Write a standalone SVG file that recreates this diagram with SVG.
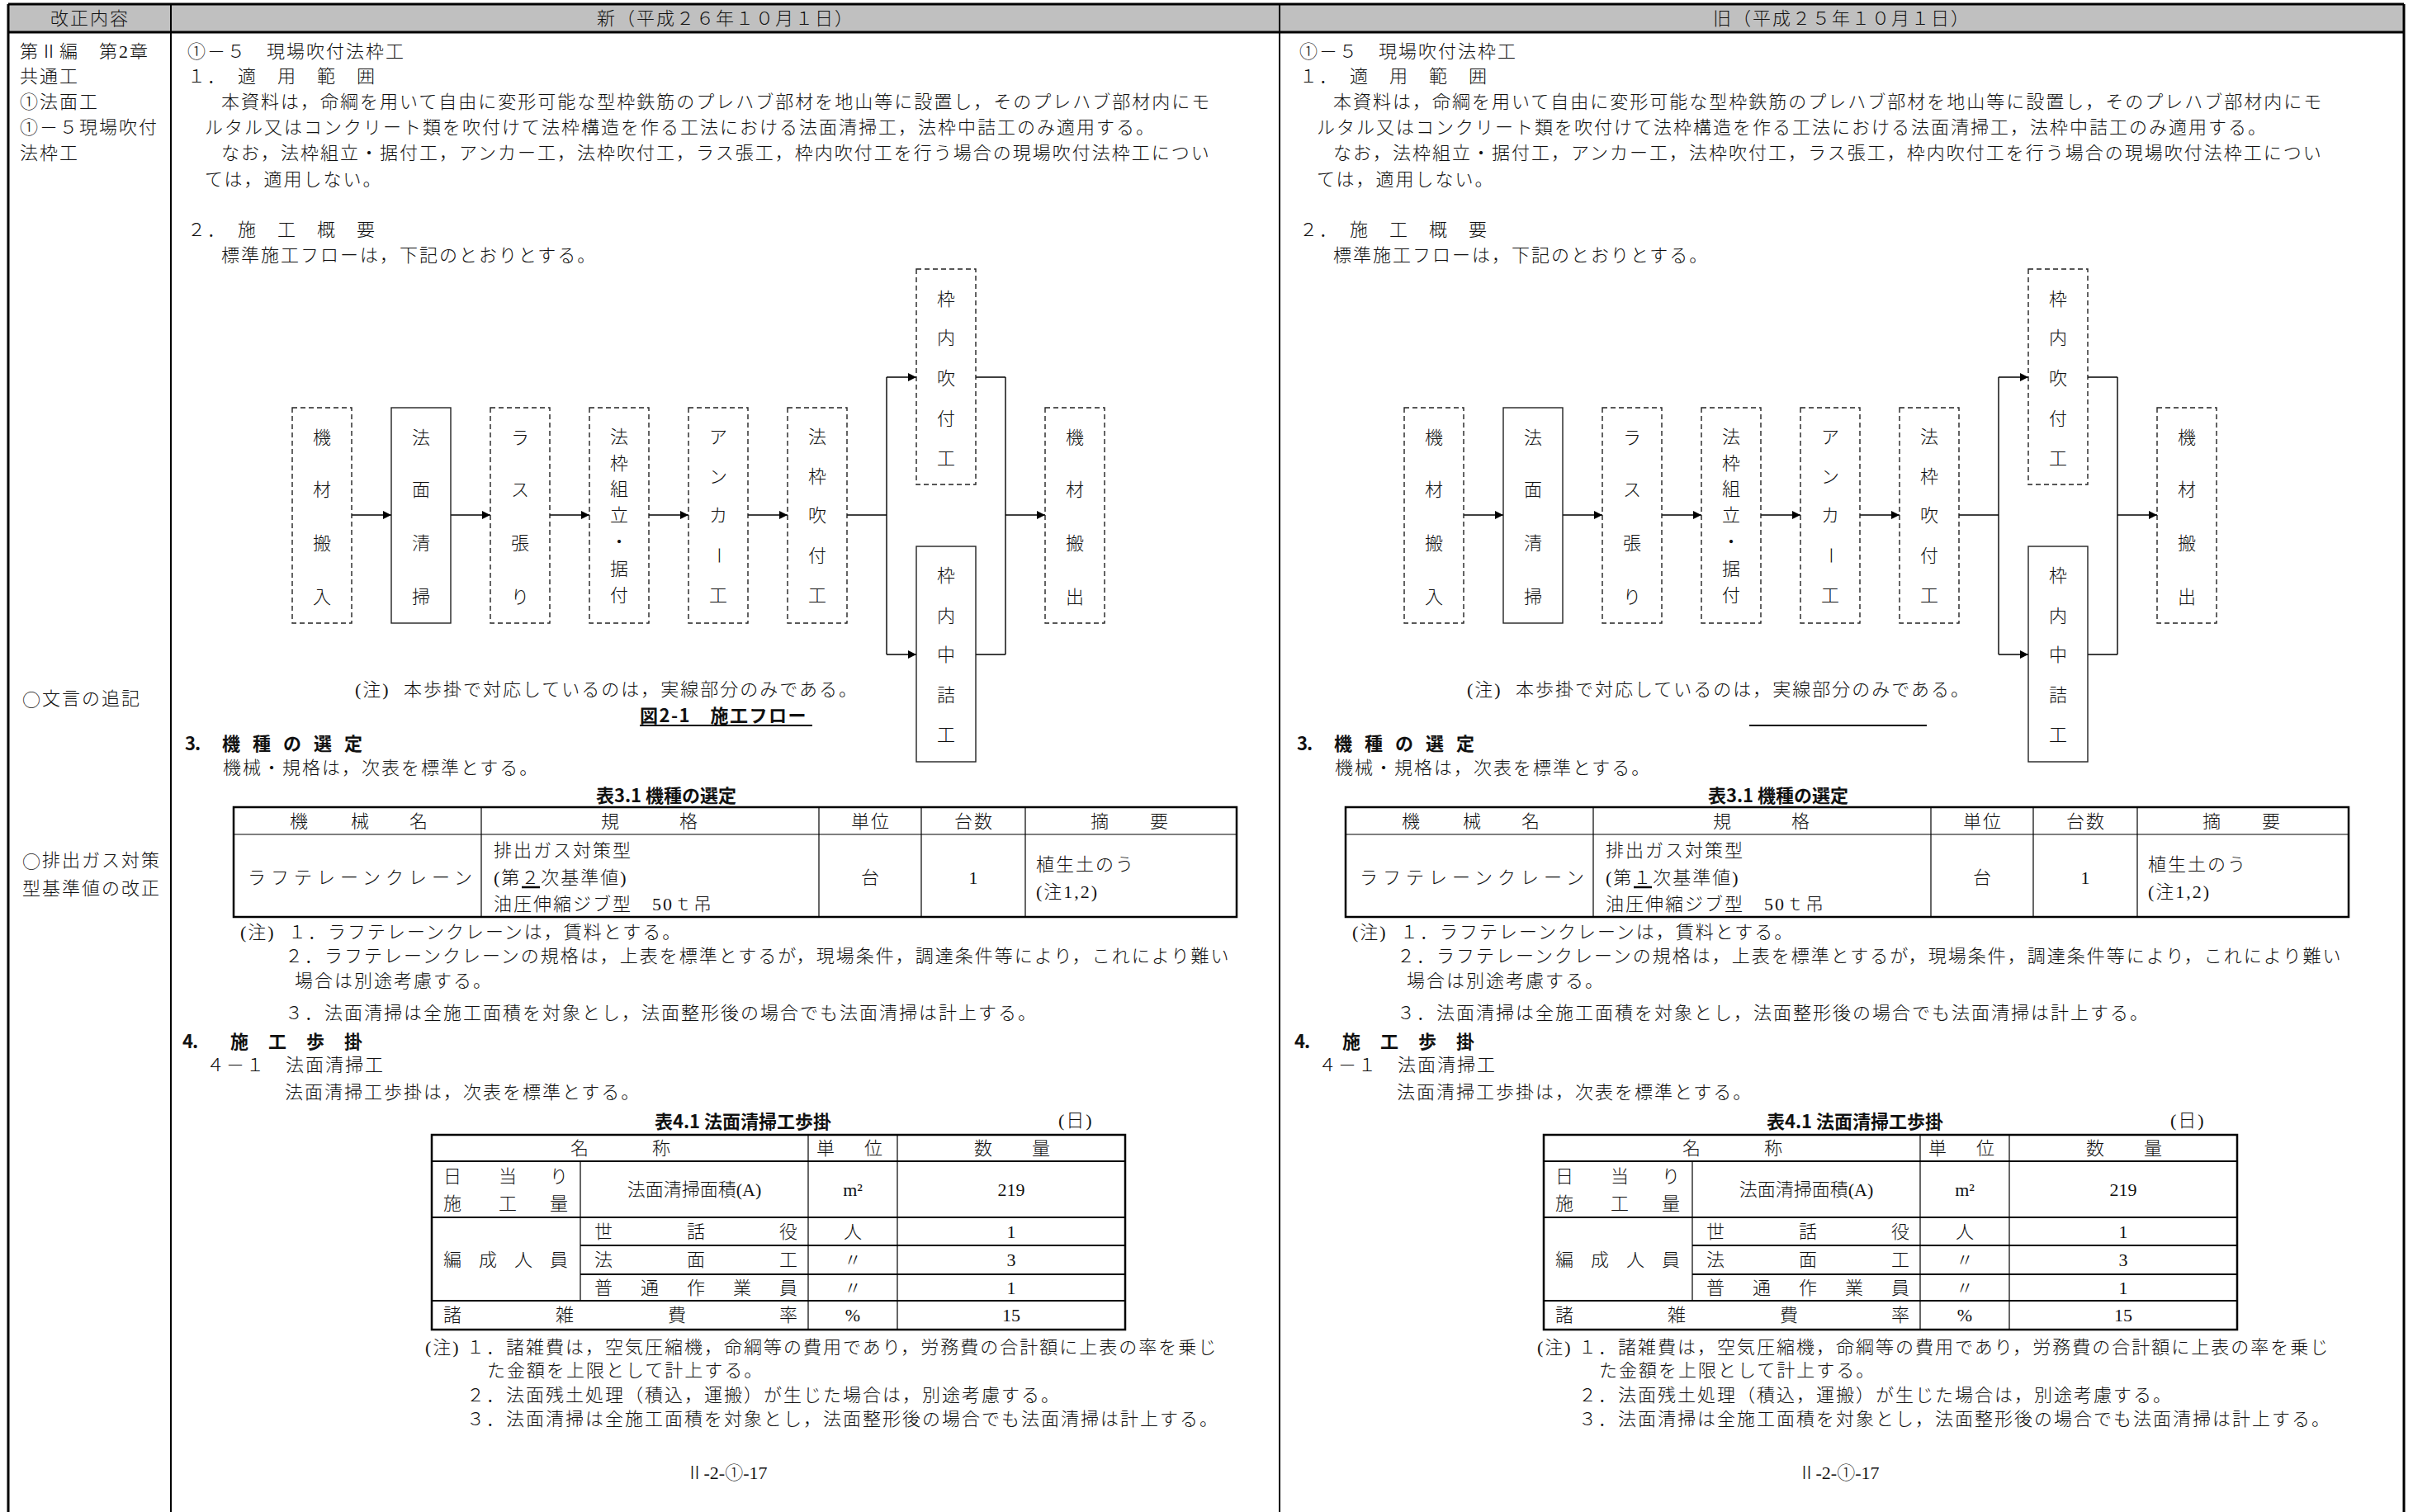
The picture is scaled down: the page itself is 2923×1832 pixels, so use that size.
<svg xmlns="http://www.w3.org/2000/svg" width="2923" height="1832" viewBox="0 0 2923 1832">
<style>
text{font-family:"Liberation Serif","Noto Sans CJK JP",serif;font-size:22px;font-weight:300;fill:#111;dominant-baseline:central}
.t{letter-spacing:2px}
.c{text-anchor:middle}
.b{font-family:"Noto Sans CJK JP","Liberation Sans",sans-serif;font-weight:700}
.j{font-family:"Noto Sans CJK JP",sans-serif}
.frame{stroke:#000;stroke-width:3;fill:none}
.div{stroke:#000;stroke-width:2;fill:none}
.box{fill:#fff;stroke:#222;stroke-width:1.4}
.dash{stroke-dasharray:6 4}
.con{stroke:#000;stroke-width:1.4;fill:none}
.arr{marker-end:url(#ah)}
.tb{stroke:#000;stroke-width:2.5;fill:none}
.tl{stroke:#000;stroke-width:1.2;fill:none}
.th{stroke:#000;stroke-width:2;fill:none}
</style>
<defs>
<marker id="ah" viewBox="0 0 10 10" refX="10" refY="5" markerWidth="11" markerHeight="10" markerUnits="userSpaceOnUse" orient="auto"><path d="M0,0 L10,5 L0,10 z" fill="#000"/></marker>
</defs>
<rect width="2923" height="1832" fill="#fff"/>
<g id="page-frame">
<rect x="10" y="5" width="2902" height="34" fill="#c0c0c0"/>
<line class="frame" x1="10" y1="5" x2="2912" y2="5"/>
<line class="frame" x1="10" y1="39" x2="2912" y2="39"/>
<line class="frame" x1="10" y1="5" x2="10" y2="1832"/>
<line class="frame" x1="2912" y1="5" x2="2912" y2="1832"/>
<line class="div" x1="207" y1="5" x2="207" y2="1832"/>
<line class="div" x1="1550" y1="5" x2="1550" y2="1832"/>
<text class="c t" x="109" y="22">改正内容</text>
<text class="c t" x="879" y="22">新（平成２６年１０月１日）</text>
<text class="c t" x="2231" y="22">旧（平成２５年１０月１日）</text>
</g>
<g id="revision-notes">
<text class="t" x="24" y="62">第Ⅱ編　第2章</text>
<text class="t" x="24" y="92">共通工</text>
<text class="t" x="24" y="123">①法面工</text>
<text class="t" x="24" y="154">①－５現場吹付</text>
<text class="t" x="24" y="185">法枠工</text>
<text class="t" x="27" y="846"><tspan class="j">○</tspan>文言の追記</text>
<text class="t" x="27" y="1042"><tspan class="j">○</tspan>排出ガス対策</text>
<text class="t" x="27" y="1076">型基準値の改正</text>
</g>

<g id="col-new">
<text class="t" x="227" y="62">①－５　現場吹付法枠工</text>
<text class="t" x="227" y="92">１．　適　用　範　囲</text>
<text class="t" x="268" y="123">本資料は，命綱を用いて自由に変形可能な型枠鉄筋のプレハブ部材を地山等に設置し，そのプレハブ部材内にモ</text>
<text class="t" x="248" y="154">ルタル又はコンクリート類を吹付けて法枠構造を作る工法における法面清掃工，法枠中詰工のみ適用する。</text>
<text class="t" x="268" y="185">なお，法枠組立・据付工，アンカー工，法枠吹付工，ラス張工，枠内吹付工を行う場合の現場吹付法枠工につい</text>
<text class="t" x="248" y="217">ては，適用しない。</text>
<text class="t" x="227" y="278">２．　施　工　概　要</text>
<text class="t" x="268" y="309">標準施工フローは，下記のとおりとする。</text>

<g id="flow-new">
<g id="connectors-new">
<line class="con arr" x1="426" y1="624" x2="474" y2="624"/>
<line class="con arr" x1="546" y1="624" x2="594" y2="624"/>
<line class="con arr" x1="666" y1="624" x2="714" y2="624"/>
<line class="con arr" x1="786" y1="624" x2="834" y2="624"/>
<line class="con arr" x1="906" y1="624" x2="954" y2="624"/>
<line class="con" x1="1026" y1="624" x2="1074" y2="624"/>
<line class="con" x1="1074" y1="457" x2="1074" y2="793"/>
<line class="con arr" x1="1074" y1="457" x2="1110" y2="457"/>
<line class="con arr" x1="1074" y1="793" x2="1110" y2="793"/>
<line class="con" x1="1182" y1="457" x2="1218" y2="457"/>
<line class="con" x1="1182" y1="793" x2="1218" y2="793"/>
<line class="con" x1="1218" y1="457" x2="1218" y2="793"/>
<line class="con arr" x1="1218" y1="624" x2="1266" y2="624"/>
</g>
<g id="n-kizai-hannyu-new"><rect class="box dash" x="354" y="494" width="72" height="261"/><text class="c" x="390 390 390 390" y="530 593 658 723">機材搬入</text></g>
<g id="n-homen-seiso-new"><rect class="box" x="474" y="494" width="72" height="261"/><text class="c" x="510 510 510 510" y="530 593 658 723">法面清掃</text></g>
<g id="n-rasu-bari-new"><rect class="box dash" x="594" y="494" width="72" height="261"/><text class="c" x="630 630 630 630" y="530 593 658 723">ラス張り</text></g>
<g id="n-howaku-kumitate-new"><rect class="box dash" x="714" y="494" width="72" height="261"/><text class="c" x="750 750 750 750 750 750 750" y="529 561 592 624 656 689 721">法枠組立・据付</text></g>
<g id="n-anchor-new"><rect class="box dash" x="834" y="494" width="72" height="261"/><text class="c" x="870 870 870" y="529 577 624">アンカ</text><text class="c" x="870" y="673" transform="rotate(90 870 673)">ー</text><text class="c" x="870" y="721">工</text></g>
<g id="n-howaku-fukitsuke-new"><rect class="box dash" x="954" y="494" width="72" height="261"/><text class="c" x="990 990 990 990 990" y="529 577 624 673 721">法枠吹付工</text></g>
<g id="n-wakunai-fukitsuke-new"><rect class="box dash" x="1110" y="326" width="72" height="261"/><text class="c" x="1146 1146 1146 1146 1146" y="362 409 458 507 555">枠内吹付工</text></g>
<g id="n-wakunai-nakazume-new"><rect class="box" x="1110" y="662" width="72" height="261"/><text class="c" x="1146 1146 1146 1146 1146" y="697 746 793 842 890">枠内中詰工</text></g>
<g id="n-kizai-hanshutsu-new"><rect class="box dash" x="1266" y="494" width="72" height="261"/><text class="c" x="1302 1302 1302 1302" y="530 593 658 723">機材搬出</text></g>
</g>
<text class="t" x="430" y="835">(注)</text>
<text class="t" x="489" y="835">本歩掛で対応しているのは，実線部分のみである。</text>
<text class="b" x="775" y="865" style="letter-spacing:1.5px">図2-1　施工フロー</text>
<line class="th" x1="775" y1="879" x2="984" y2="879"/>

<text class="b" x="224 236 269 306 343 380 417" y="899">3.機種の選定</text>
<text class="t" x="270" y="930">機械・規格は，次表を標準とする。</text>
<text class="b c" x="807" y="962">表3.1 機種の選定</text>
<g id="table31-new">
<rect class="tb" x="283" y="978" width="1215" height="133"/>
<line class="tl" x1="283" y1="1011" x2="1498" y2="1011"/>
<line class="tl" x1="583" y1="978" x2="583" y2="1111"/>
<line class="tl" x1="992" y1="978" x2="992" y2="1111"/>
<line class="tl" x1="1116" y1="978" x2="1116" y2="1111"/>
<line class="tl" x1="1242" y1="978" x2="1242" y2="1111"/>
<text class="c" x="362 436 507" y="995">機械名</text>
<text class="c" x="739 834" y="995">規格</text>
<text class="c t" x="1055" y="995">単位</text>
<text class="c t" x="1180" y="995">台数</text>
<text class="c" x="1332 1404" y="995">摘要</text>
<text x="300" y="1063" textLength="272" lengthAdjust="spacing">ラフテレーンクレーン</text>
<text class="t" x="598" y="1030">排出ガス対策型</text>
<text class="t" x="598" y="1063">(第２次基準値)</text>
<line x1="632" y1="1075" x2="654" y2="1075" stroke="#000" stroke-width="2.5"/>
<text class="t" x="598" y="1095">油圧伸縮ジブ型　50ｔ吊</text>
<text class="c" x="1054" y="1063">台</text>
<text class="c" x="1179" y="1063">1</text>
<text class="t" x="1255" y="1047">植生土のう</text>
<text class="t" x="1255" y="1080">(注1,2)</text>
</g>
<text class="t" x="291" y="1129">(注)</text>
<text class="t" x="349" y="1129">１．ラフテレーンクレーンは，賃料とする。</text>
<text class="t" x="345" y="1158">２．ラフテレーンクレーンの規格は，上表を標準とするが，現場条件，調達条件等により，これにより難い</text>
<text class="t" x="357" y="1188">場合は別途考慮する。</text>
<text class="t" x="345" y="1227">３．法面清掃は全施工面積を対象とし，法面整形後の場合でも法面清掃は計上する。</text>
<text class="b" x="221 233 279 325 371 417" y="1260">4.施工歩掛</text>
<text class="t" x="250" y="1290">４－１　法面清掃工</text>
<text class="t" x="345" y="1323">法面清掃工歩掛は，次表を標準とする。</text>
<text class="b c" x="900" y="1357">表4.1 法面清掃工歩掛</text>
<text class="t" x="1282" y="1357">(日)</text>
<g id="table41-new">
<rect class="tb" x="523" y="1375" width="840" height="236"/>
<line class="th" x1="523" y1="1407" x2="1363" y2="1407"/>
<line class="th" x1="523" y1="1475" x2="1363" y2="1475"/>
<line class="th" x1="703" y1="1509" x2="1363" y2="1509"/>
<line class="th" x1="703" y1="1544" x2="1363" y2="1544"/>
<line class="th" x1="523" y1="1576" x2="1363" y2="1576"/>
<line class="tl" x1="703" y1="1407" x2="703" y2="1576"/>
<line class="tl" x1="979" y1="1375" x2="979" y2="1611"/>
<line class="tl" x1="1087" y1="1375" x2="1087" y2="1611"/>
<text class="c" x="702 801" y="1391">名称</text>
<text class="c" x="1000 1058" y="1391">単位</text>
<text class="c" x="1191 1261" y="1391">数量</text>
<text class="c" x="548 615 677" y="1425">日当り</text>
<text class="c" x="548 615 677" y="1458">施工量</text>
<text class="c" x="841" y="1441">法面清掃面積(A)</text>
<text class="c" x="1033" y="1441">m²</text>
<text class="c" x="1225" y="1441">219</text>
<text class="c" x="731 843 955" y="1492">世話役</text>
<text class="c" x="1033" y="1492">人</text>
<text class="c" x="1225" y="1492">1</text>
<text class="c" x="548 591 634 677" y="1526">編成人員</text>
<text class="c" x="731 843 955" y="1526">法面工</text>
<text class="c" x="1033" y="1526">〃</text>
<text class="c" x="1225" y="1526">3</text>
<text class="c" x="731 787 843 899 955" y="1560">普通作業員</text>
<text class="c" x="1033" y="1560">〃</text>
<text class="c" x="1225" y="1560">1</text>
<text class="c" x="548 684 820 955" y="1593">諸雑費率</text>
<text class="c" x="1033" y="1593">%</text>
<text class="c" x="1225" y="1593">15</text>
</g>
<text class="t" x="515" y="1632">(注)</text>
<text class="t" x="565" y="1632">１．諸雑費は，空気圧縮機，命綱等の費用であり，労務費の合計額に上表の率を乗じ</text>
<text class="t" x="590" y="1660">た金額を上限として計上する。</text>
<text class="t" x="565" y="1690">２．法面残土処理（積込，運搬）が生じた場合は，別途考慮する。</text>
<text class="t" x="565" y="1719">３．法面清掃は全施工面積を対象とし，法面整形後の場合でも法面清掃は計上する。</text>
<text class="c" x="880" y="1784">Ⅱ-2-①-17</text>
</g>

<g id="col-old" transform="translate(1347,0)">
<text class="t" x="227" y="62">①－５　現場吹付法枠工</text>
<text class="t" x="227" y="92">１．　適　用　範　囲</text>
<text class="t" x="268" y="123">本資料は，命綱を用いて自由に変形可能な型枠鉄筋のプレハブ部材を地山等に設置し，そのプレハブ部材内にモ</text>
<text class="t" x="248" y="154">ルタル又はコンクリート類を吹付けて法枠構造を作る工法における法面清掃工，法枠中詰工のみ適用する。</text>
<text class="t" x="268" y="185">なお，法枠組立・据付工，アンカー工，法枠吹付工，ラス張工，枠内吹付工を行う場合の現場吹付法枠工につい</text>
<text class="t" x="248" y="217">ては，適用しない。</text>
<text class="t" x="227" y="278">２．　施　工　概　要</text>
<text class="t" x="268" y="309">標準施工フローは，下記のとおりとする。</text>

<g id="flow-old">
<g id="connectors-old">
<line class="con arr" x1="426" y1="624" x2="474" y2="624"/>
<line class="con arr" x1="546" y1="624" x2="594" y2="624"/>
<line class="con arr" x1="666" y1="624" x2="714" y2="624"/>
<line class="con arr" x1="786" y1="624" x2="834" y2="624"/>
<line class="con arr" x1="906" y1="624" x2="954" y2="624"/>
<line class="con" x1="1026" y1="624" x2="1074" y2="624"/>
<line class="con" x1="1074" y1="457" x2="1074" y2="793"/>
<line class="con arr" x1="1074" y1="457" x2="1110" y2="457"/>
<line class="con arr" x1="1074" y1="793" x2="1110" y2="793"/>
<line class="con" x1="1182" y1="457" x2="1218" y2="457"/>
<line class="con" x1="1182" y1="793" x2="1218" y2="793"/>
<line class="con" x1="1218" y1="457" x2="1218" y2="793"/>
<line class="con arr" x1="1218" y1="624" x2="1266" y2="624"/>
</g>
<g id="n-kizai-hannyu-old"><rect class="box dash" x="354" y="494" width="72" height="261"/><text class="c" x="390 390 390 390" y="530 593 658 723">機材搬入</text></g>
<g id="n-homen-seiso-old"><rect class="box" x="474" y="494" width="72" height="261"/><text class="c" x="510 510 510 510" y="530 593 658 723">法面清掃</text></g>
<g id="n-rasu-bari-old"><rect class="box dash" x="594" y="494" width="72" height="261"/><text class="c" x="630 630 630 630" y="530 593 658 723">ラス張り</text></g>
<g id="n-howaku-kumitate-old"><rect class="box dash" x="714" y="494" width="72" height="261"/><text class="c" x="750 750 750 750 750 750 750" y="529 561 592 624 656 689 721">法枠組立・据付</text></g>
<g id="n-anchor-old"><rect class="box dash" x="834" y="494" width="72" height="261"/><text class="c" x="870 870 870" y="529 577 624">アンカ</text><text class="c" x="870" y="673" transform="rotate(90 870 673)">ー</text><text class="c" x="870" y="721">工</text></g>
<g id="n-howaku-fukitsuke-old"><rect class="box dash" x="954" y="494" width="72" height="261"/><text class="c" x="990 990 990 990 990" y="529 577 624 673 721">法枠吹付工</text></g>
<g id="n-wakunai-fukitsuke-old"><rect class="box dash" x="1110" y="326" width="72" height="261"/><text class="c" x="1146 1146 1146 1146 1146" y="362 409 458 507 555">枠内吹付工</text></g>
<g id="n-wakunai-nakazume-old"><rect class="box" x="1110" y="662" width="72" height="261"/><text class="c" x="1146 1146 1146 1146 1146" y="697 746 793 842 890">枠内中詰工</text></g>
<g id="n-kizai-hanshutsu-old"><rect class="box dash" x="1266" y="494" width="72" height="261"/><text class="c" x="1302 1302 1302 1302" y="530 593 658 723">機材搬出</text></g>
</g>
<text class="t" x="430" y="835">(注)</text>
<text class="t" x="489" y="835">本歩掛で対応しているのは，実線部分のみである。</text>
<line class="th" x1="772" y1="879" x2="987" y2="879"/>

<text class="b" x="224 236 269 306 343 380 417" y="899">3.機種の選定</text>
<text class="t" x="270" y="930">機械・規格は，次表を標準とする。</text>
<text class="b c" x="807" y="962">表3.1 機種の選定</text>
<g id="table31-old">
<rect class="tb" x="283" y="978" width="1215" height="133"/>
<line class="tl" x1="283" y1="1011" x2="1498" y2="1011"/>
<line class="tl" x1="583" y1="978" x2="583" y2="1111"/>
<line class="tl" x1="992" y1="978" x2="992" y2="1111"/>
<line class="tl" x1="1116" y1="978" x2="1116" y2="1111"/>
<line class="tl" x1="1242" y1="978" x2="1242" y2="1111"/>
<text class="c" x="362 436 507" y="995">機械名</text>
<text class="c" x="739 834" y="995">規格</text>
<text class="c t" x="1055" y="995">単位</text>
<text class="c t" x="1180" y="995">台数</text>
<text class="c" x="1332 1404" y="995">摘要</text>
<text x="300" y="1063" textLength="272" lengthAdjust="spacing">ラフテレーンクレーン</text>
<text class="t" x="598" y="1030">排出ガス対策型</text>
<text class="t" x="598" y="1063">(第１次基準値)</text>
<line x1="632" y1="1075" x2="654" y2="1075" stroke="#000" stroke-width="2.5"/>
<text class="t" x="598" y="1095">油圧伸縮ジブ型　50ｔ吊</text>
<text class="c" x="1054" y="1063">台</text>
<text class="c" x="1179" y="1063">1</text>
<text class="t" x="1255" y="1047">植生土のう</text>
<text class="t" x="1255" y="1080">(注1,2)</text>
</g>
<text class="t" x="291" y="1129">(注)</text>
<text class="t" x="349" y="1129">１．ラフテレーンクレーンは，賃料とする。</text>
<text class="t" x="345" y="1158">２．ラフテレーンクレーンの規格は，上表を標準とするが，現場条件，調達条件等により，これにより難い</text>
<text class="t" x="357" y="1188">場合は別途考慮する。</text>
<text class="t" x="345" y="1227">３．法面清掃は全施工面積を対象とし，法面整形後の場合でも法面清掃は計上する。</text>
<text class="b" x="221 233 279 325 371 417" y="1260">4.施工歩掛</text>
<text class="t" x="250" y="1290">４－１　法面清掃工</text>
<text class="t" x="345" y="1323">法面清掃工歩掛は，次表を標準とする。</text>
<text class="b c" x="900" y="1357">表4.1 法面清掃工歩掛</text>
<text class="t" x="1282" y="1357">(日)</text>
<g id="table41-old">
<rect class="tb" x="523" y="1375" width="840" height="236"/>
<line class="th" x1="523" y1="1407" x2="1363" y2="1407"/>
<line class="th" x1="523" y1="1475" x2="1363" y2="1475"/>
<line class="th" x1="703" y1="1509" x2="1363" y2="1509"/>
<line class="th" x1="703" y1="1544" x2="1363" y2="1544"/>
<line class="th" x1="523" y1="1576" x2="1363" y2="1576"/>
<line class="tl" x1="703" y1="1407" x2="703" y2="1576"/>
<line class="tl" x1="979" y1="1375" x2="979" y2="1611"/>
<line class="tl" x1="1087" y1="1375" x2="1087" y2="1611"/>
<text class="c" x="702 801" y="1391">名称</text>
<text class="c" x="1000 1058" y="1391">単位</text>
<text class="c" x="1191 1261" y="1391">数量</text>
<text class="c" x="548 615 677" y="1425">日当り</text>
<text class="c" x="548 615 677" y="1458">施工量</text>
<text class="c" x="841" y="1441">法面清掃面積(A)</text>
<text class="c" x="1033" y="1441">m²</text>
<text class="c" x="1225" y="1441">219</text>
<text class="c" x="731 843 955" y="1492">世話役</text>
<text class="c" x="1033" y="1492">人</text>
<text class="c" x="1225" y="1492">1</text>
<text class="c" x="548 591 634 677" y="1526">編成人員</text>
<text class="c" x="731 843 955" y="1526">法面工</text>
<text class="c" x="1033" y="1526">〃</text>
<text class="c" x="1225" y="1526">3</text>
<text class="c" x="731 787 843 899 955" y="1560">普通作業員</text>
<text class="c" x="1033" y="1560">〃</text>
<text class="c" x="1225" y="1560">1</text>
<text class="c" x="548 684 820 955" y="1593">諸雑費率</text>
<text class="c" x="1033" y="1593">%</text>
<text class="c" x="1225" y="1593">15</text>
</g>
<text class="t" x="515" y="1632">(注)</text>
<text class="t" x="565" y="1632">１．諸雑費は，空気圧縮機，命綱等の費用であり，労務費の合計額に上表の率を乗じ</text>
<text class="t" x="590" y="1660">た金額を上限として計上する。</text>
<text class="t" x="565" y="1690">２．法面残土処理（積込，運搬）が生じた場合は，別途考慮する。</text>
<text class="t" x="565" y="1719">３．法面清掃は全施工面積を対象とし，法面整形後の場合でも法面清掃は計上する。</text>
<text class="c" x="880" y="1784">Ⅱ-2-①-17</text>
</g>
</svg>
